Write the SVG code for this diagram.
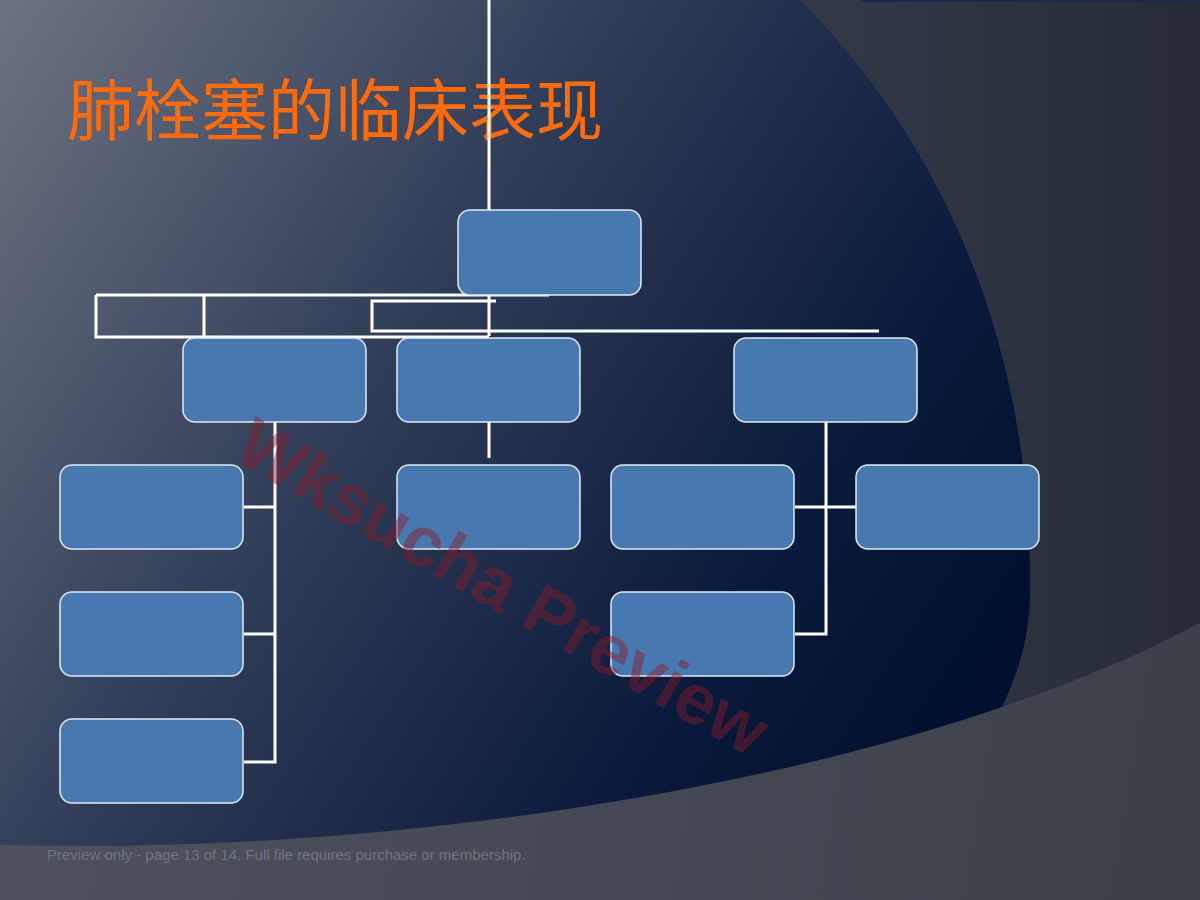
<svg xmlns="http://www.w3.org/2000/svg" width="1200" height="900" viewBox="0 0 1200 900">
<defs>
<linearGradient id="bgMain" x1="0" y1="0" x2="1000" y2="650" gradientUnits="userSpaceOnUse">
<stop offset="0" stop-color="#6d7281"/>
<stop offset="0.45" stop-color="#2e3b56"/>
<stop offset="0.8" stop-color="#0a1a3c"/>
<stop offset="1" stop-color="#00102e"/>
</linearGradient>
<linearGradient id="bgRight" x1="800" y1="0" x2="1200" y2="0" gradientUnits="userSpaceOnUse">
<stop offset="0" stop-color="#333947"/>
<stop offset="1" stop-color="#262b37"/>
</linearGradient>
<linearGradient id="bgBottom" x1="0" y1="700" x2="1200" y2="900" gradientUnits="userSpaceOnUse">
<stop offset="0" stop-color="#4d525d"/>
<stop offset="1" stop-color="#3c4049"/>
</linearGradient>
<style>
.box{fill:#4878b0;stroke:#e2eaf3;stroke-width:1.5}
.conn{stroke:#ffffff;stroke-width:3;fill:none}
</style>
</defs>
<rect x="0" y="0" width="1200" height="900" fill="url(#bgRight)"/>
<path d="M0,0 L800,0 C930,130 1035,330 1030,600 C1028,650 1012,690 990,730 L990,900 L0,900 Z" fill="url(#bgMain)"/>
<path d="M860,1 L1200,1" stroke="#1a2a4c" stroke-width="2"/>
<path d="M0,845 C400,856 900,782 1200,623 L1200,900 L0,900 Z" fill="url(#bgBottom)"/>
<text x="67" y="135" font-family="Noto Sans CJK SC, sans-serif" font-size="67" fill="#ff6a0a">肺栓塞的临床表现</text>
<g id="connectors">
<path class="conn" d="M489,0 V336"/>
<path class="conn" d="M96,295 H549"/>
<path class="conn" d="M96,295 V337 H489"/>
<path class="conn" d="M204,295 V337"/>
<path class="conn" d="M496,301 H372 V331 H879"/>
<path class="conn" d="M275,422 V762 H244"/>
<path class="conn" d="M244,507 H275"/>
<path class="conn" d="M244,634 H275"/>
<path class="conn" d="M489,422 V458"/>
<path class="conn" d="M826,422 V634 H795"/>
<path class="conn" d="M795,507 H856"/>
</g>
<g id="n0"><rect class="box" x="458" y="210" width="183" height="85" rx="12"/></g>
<g id="n1"><rect class="box" x="183" y="338" width="183" height="84" rx="12"/></g>
<g id="n2"><rect class="box" x="397" y="338" width="183" height="84" rx="12"/></g>
<g id="n3"><rect class="box" x="734" y="338" width="183" height="84" rx="12"/></g>
<g id="n4"><rect class="box" x="60" y="465" width="183" height="84" rx="12"/></g>
<g id="n5"><rect class="box" x="397" y="465" width="183" height="84" rx="12"/></g>
<g id="n6"><rect class="box" x="611" y="465" width="183" height="84" rx="12"/></g>
<g id="n7"><rect class="box" x="856" y="465" width="183" height="84" rx="12"/></g>
<g id="n8"><rect class="box" x="60" y="592" width="183" height="84" rx="12"/></g>
<g id="n9"><rect class="box" x="611" y="592" width="183" height="84" rx="12"/></g>
<g id="n10"><rect class="box" x="60" y="719" width="183" height="84" rx="12"/></g>
<text x="0" y="0" transform="translate(500,592) rotate(30)" text-anchor="middle" dominant-baseline="middle" font-family="Liberation Sans, Arial, sans-serif" font-weight="bold" font-size="71" fill="#8a1a28" fill-opacity="0.45">Wksucha Preview</text>
<text x="47" y="860" font-family="Liberation Sans, Arial, sans-serif" font-size="15" fill="#7a7f8a" fill-opacity="0.8">Preview only - page 13 of 14. Full file requires purchase or membership.</text>
</svg>
